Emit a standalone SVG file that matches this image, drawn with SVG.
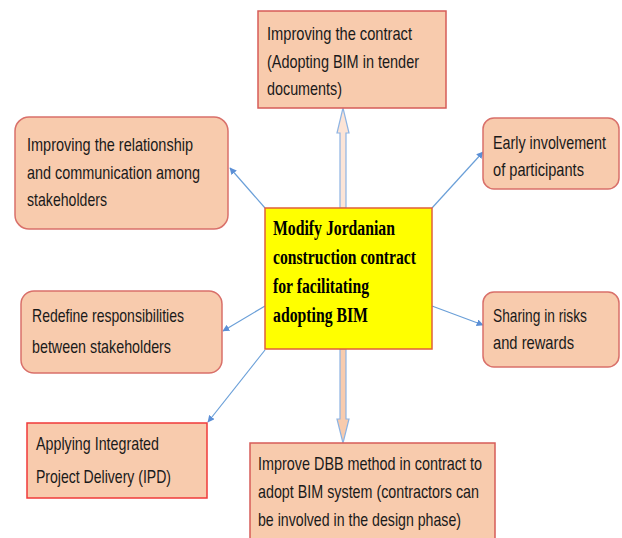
<svg xmlns="http://www.w3.org/2000/svg" width="622" height="538" viewBox="0 0 622 538">
<style>
.box{fill:#f8cbad;stroke:#d65c58;stroke-width:1.5}
.rbox{fill:#f8cbad;stroke:#d9706a;stroke-width:1.5}
.t{font-family:"Liberation Sans",Arial,sans-serif;font-size:19px;fill:#1a1a1a}
.c{font-family:"Liberation Serif","Times New Roman",serif;font-size:20px;font-weight:bold;fill:#000}
.ln{stroke:#6a9fd8;stroke-width:1.2;fill:none}
.blk{stroke:#8eb4e3;stroke-width:1.2}
</style>
<defs>
<marker id="ah" viewBox="0 0 10 10" refX="9" refY="5" markerWidth="7" markerHeight="7" orient="auto" markerUnits="userSpaceOnUse">
<path d="M0,0 L10,5 L0,10 z" fill="#5b8fd6"/>
</marker>
</defs>
<g id="connectors">
<line class="ln" x1="265" y1="208" x2="230" y2="168" marker-end="url(#ah)"/>
<line class="ln" x1="432" y1="208" x2="483" y2="152" marker-end="url(#ah)"/>
<line class="ln" x1="432" y1="306" x2="483" y2="325" marker-end="url(#ah)"/>
<line class="ln" x1="265" y1="306" x2="223" y2="331" marker-end="url(#ah)"/>
<line class="ln" x1="265" y1="350" x2="208" y2="422" marker-end="url(#ah)"/>
<polygon class="blk" fill="#fce4d6" points="340,208 340,133 337,133 343,108 349,133 346,133 346,208"/>
<polygon class="blk" fill="#f8cbad" points="340,349 340,419 337,419 343,443 349,419 346,419 346,349"/>
</g>
<g id="center">
<rect x="265" y="208" width="167" height="141" fill="#ffff00" stroke="#e0603a" stroke-width="1.5"/>
<text class="c" x="273" y="235" textLength="122" lengthAdjust="spacingAndGlyphs">Modify Jordanian</text>
<text class="c" x="273" y="264" textLength="143" lengthAdjust="spacingAndGlyphs">construction contract</text>
<text class="c" x="273" y="293" textLength="96" lengthAdjust="spacingAndGlyphs">for facilitating</text>
<text class="c" x="273" y="322" textLength="95" lengthAdjust="spacingAndGlyphs">adopting BIM</text>
</g>
<g id="contract">
<rect class="box" x="258" y="11" width="188" height="97"/>
<text class="t" x="267" y="40" textLength="145" lengthAdjust="spacingAndGlyphs">Improving the contract</text>
<text class="t" x="267" y="68" textLength="152" lengthAdjust="spacingAndGlyphs">(Adopting BIM in tender</text>
<text class="t" x="267" y="95" textLength="75" lengthAdjust="spacingAndGlyphs">documents)</text>
</g>
<g id="relationship">
<rect class="rbox" x="15" y="117" width="213" height="112" rx="14"/>
<text class="t" x="27" y="151" textLength="166" lengthAdjust="spacingAndGlyphs">Improving the relationship</text>
<text class="t" x="27" y="179" textLength="173" lengthAdjust="spacingAndGlyphs">and communication among</text>
<text class="t" x="27" y="206" textLength="80" lengthAdjust="spacingAndGlyphs">stakeholders</text>
</g>
<g id="early">
<rect class="rbox" x="483" y="118" width="136" height="71" rx="11"/>
<text class="t" x="493" y="149" textLength="113" lengthAdjust="spacingAndGlyphs">Early involvement</text>
<text class="t" x="493" y="176" textLength="91" lengthAdjust="spacingAndGlyphs">of participants</text>
</g>
<g id="sharing">
<rect class="rbox" x="483" y="292" width="136" height="75" rx="11"/>
<text class="t" x="493" y="322" textLength="94" lengthAdjust="spacingAndGlyphs">Sharing in risks</text>
<text class="t" x="493" y="349" textLength="81" lengthAdjust="spacingAndGlyphs">and rewards</text>
</g>
<g id="redefine">
<rect class="rbox" x="21" y="291" width="201" height="82" rx="13"/>
<text class="t" x="32" y="322" textLength="152" lengthAdjust="spacingAndGlyphs">Redefine responsibilities</text>
<text class="t" x="32" y="353" textLength="139" lengthAdjust="spacingAndGlyphs">between stakeholders</text>
</g>
<g id="ipd">
<rect x="27" y="423" width="180" height="75" fill="#f8cbad" stroke="#f03a3a" stroke-width="1.5"/>
<text class="t" x="36" y="450" textLength="123" lengthAdjust="spacingAndGlyphs">Applying Integrated</text>
<text class="t" x="36" y="483" textLength="135" lengthAdjust="spacingAndGlyphs">Project Delivery (IPD)</text>
</g>
<g id="dbb">
<rect class="box" x="250" y="443" width="245" height="105"/>
<text class="t" x="258" y="470" textLength="224" lengthAdjust="spacingAndGlyphs">Improve DBB method in contract to</text>
<text class="t" x="258" y="498" textLength="221" lengthAdjust="spacingAndGlyphs">adopt BIM system (contractors can</text>
<text class="t" x="258" y="526" textLength="203" lengthAdjust="spacingAndGlyphs">be involved in the design phase)</text>
</g>
</svg>
